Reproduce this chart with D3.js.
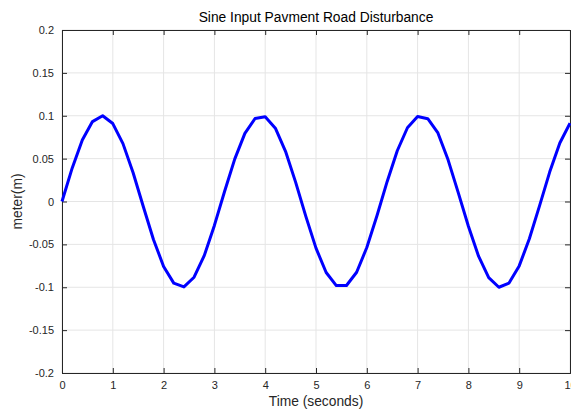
<!DOCTYPE html>
<html><head><meta charset="utf-8">
<script src="https://cdn.jsdelivr.net/npm/d3@7"></script>
<style>body{margin:0;background:#fff}svg{display:block}</style>
</head><body>
<svg id="c" width="571" height="410"></svg>
<script>
const timeValues = [0,0.2,0.4,0.6,0.8,1.0,1.2,1.4,1.6,1.8,2.0,2.2,2.4,2.6,2.8,3.0,3.2,3.4,3.6,3.8,4.0,4.2,4.4,4.6,4.8,5.0,5.2,5.4,5.6,5.8,6.0,6.2,6.4,6.6,6.8,7.0,7.2,7.4,7.6,7.8,8.0,8.2,8.4,8.6,8.8,9.0,9.2,9.4,9.6,9.8,10.0];
const disturbance = [0,0.0389,0.0717,0.0932,0.1000,0.0909,0.0675,0.0335,-0.0058,-0.0443,-0.0757,-0.0952,-0.0996,-0.0883,-0.0631,-0.0279,0.0117,0.0494,0.0794,0.0968,0.0989,0.0855,0.0585,0.0223,-0.0174,-0.0544,-0.0828,-0.0981,-0.0980,-0.0825,-0.0537,-0.0166,0.0231,0.0592,0.0860,0.0991,0.0966,0.0799,0.0486,0.0104,-0.0288,-0.0638,-0.0887,-0.1000,-0.0951,-0.0751,-0.0435,-0.0051,0.0343,0.0682,0.0913];
const xTicks = [0,1,2,3,4,5,6,7,8,9,10];
const yTicks = [-0.2,-0.15,-0.1,-0.05,0,0.05,0.1,0.15,0.2];
const titleText = "Sine Input Pavment Road Disturbance";
const xLabel = "Time (seconds)";
const yLabel = "meter(m)";

const L = 62, R = 570, T = 30, B = 373;
const svg = d3.select("#c");
const font = "'Liberation Sans', Arial, sans-serif";
const x = d3.scaleLinear().domain([0,10]).range([L,R]);
const y = d3.scaleLinear().domain([-0.2,0.2]).range([B,T]);

// grid
const g = svg.append("g");
g.selectAll(".vx").data(xTicks).enter().append("line")
  .attr("x1", d=>x(d)).attr("x2", d=>x(d)).attr("y1", T).attr("y2", B)
  .attr("stroke", "#e5e5e5").attr("stroke-width", 1);
g.selectAll(".hy").data(yTicks).enter().append("line")
  .attr("y1", d=>y(d)).attr("y2", d=>y(d)).attr("x1", L).attr("x2", R)
  .attr("stroke", "#e5e5e5").attr("stroke-width", 1);

// axes
const ax = svg.append("g").attr("transform", `translate(0,${B})`)
  .call(d3.axisBottom(x).tickValues(xTicks).tickSize(-5).tickPadding(8).tickFormat(d=>String(d)));
const axT = svg.append("g").attr("transform", `translate(0,${T})`)
  .call(d3.axisTop(x).tickValues(xTicks).tickSize(-5).tickFormat(""));
const ay = svg.append("g").attr("transform", `translate(${L},0)`)
  .call(d3.axisLeft(y).tickValues(yTicks).tickSize(-5).tickPadding(8).tickFormat(d=>String(+d.toFixed(2))));
const ayR = svg.append("g").attr("transform", `translate(${R},0)`)
  .call(d3.axisRight(y).tickValues(yTicks).tickSize(-5).tickFormat(""));
[ax,axT,ay,ayR].forEach(a=>{
  a.select(".domain").attr("stroke","#262626").attr("stroke-width",1);
  a.selectAll(".tick line").attr("stroke","#262626");
  a.selectAll("text").attr("fill","#262626").style("font-family",font).style("font-size","11px");
});

// line
svg.append("path")
  .datum(timeValues.map((t,i)=>[t,disturbance[i]]))
  .attr("fill","none").attr("stroke","#0000ff").attr("stroke-width",3)
  .attr("stroke-linejoin","round")
  .attr("d", d3.line().x(d=>x(d[0])).y(d=>y(d[1])));

// labels
svg.append("text").attr("x",(L+R)/2).attr("y",22).attr("text-anchor","middle")
  .style("font-family",font).style("font-size","13.8px").attr("fill","#000").text(titleText);
svg.append("text").attr("x",(L+R)/2).attr("y",406).attr("text-anchor","middle")
  .style("font-family",font).style("font-size","13.8px").attr("fill","#262626").text(xLabel);
svg.append("text").attr("transform",`translate(22,${(T+B)/2}) rotate(-90)`).attr("text-anchor","middle")
  .style("font-family",font).style("font-size","13.8px").attr("fill","#262626").text(yLabel);
</script>
</body></html>
